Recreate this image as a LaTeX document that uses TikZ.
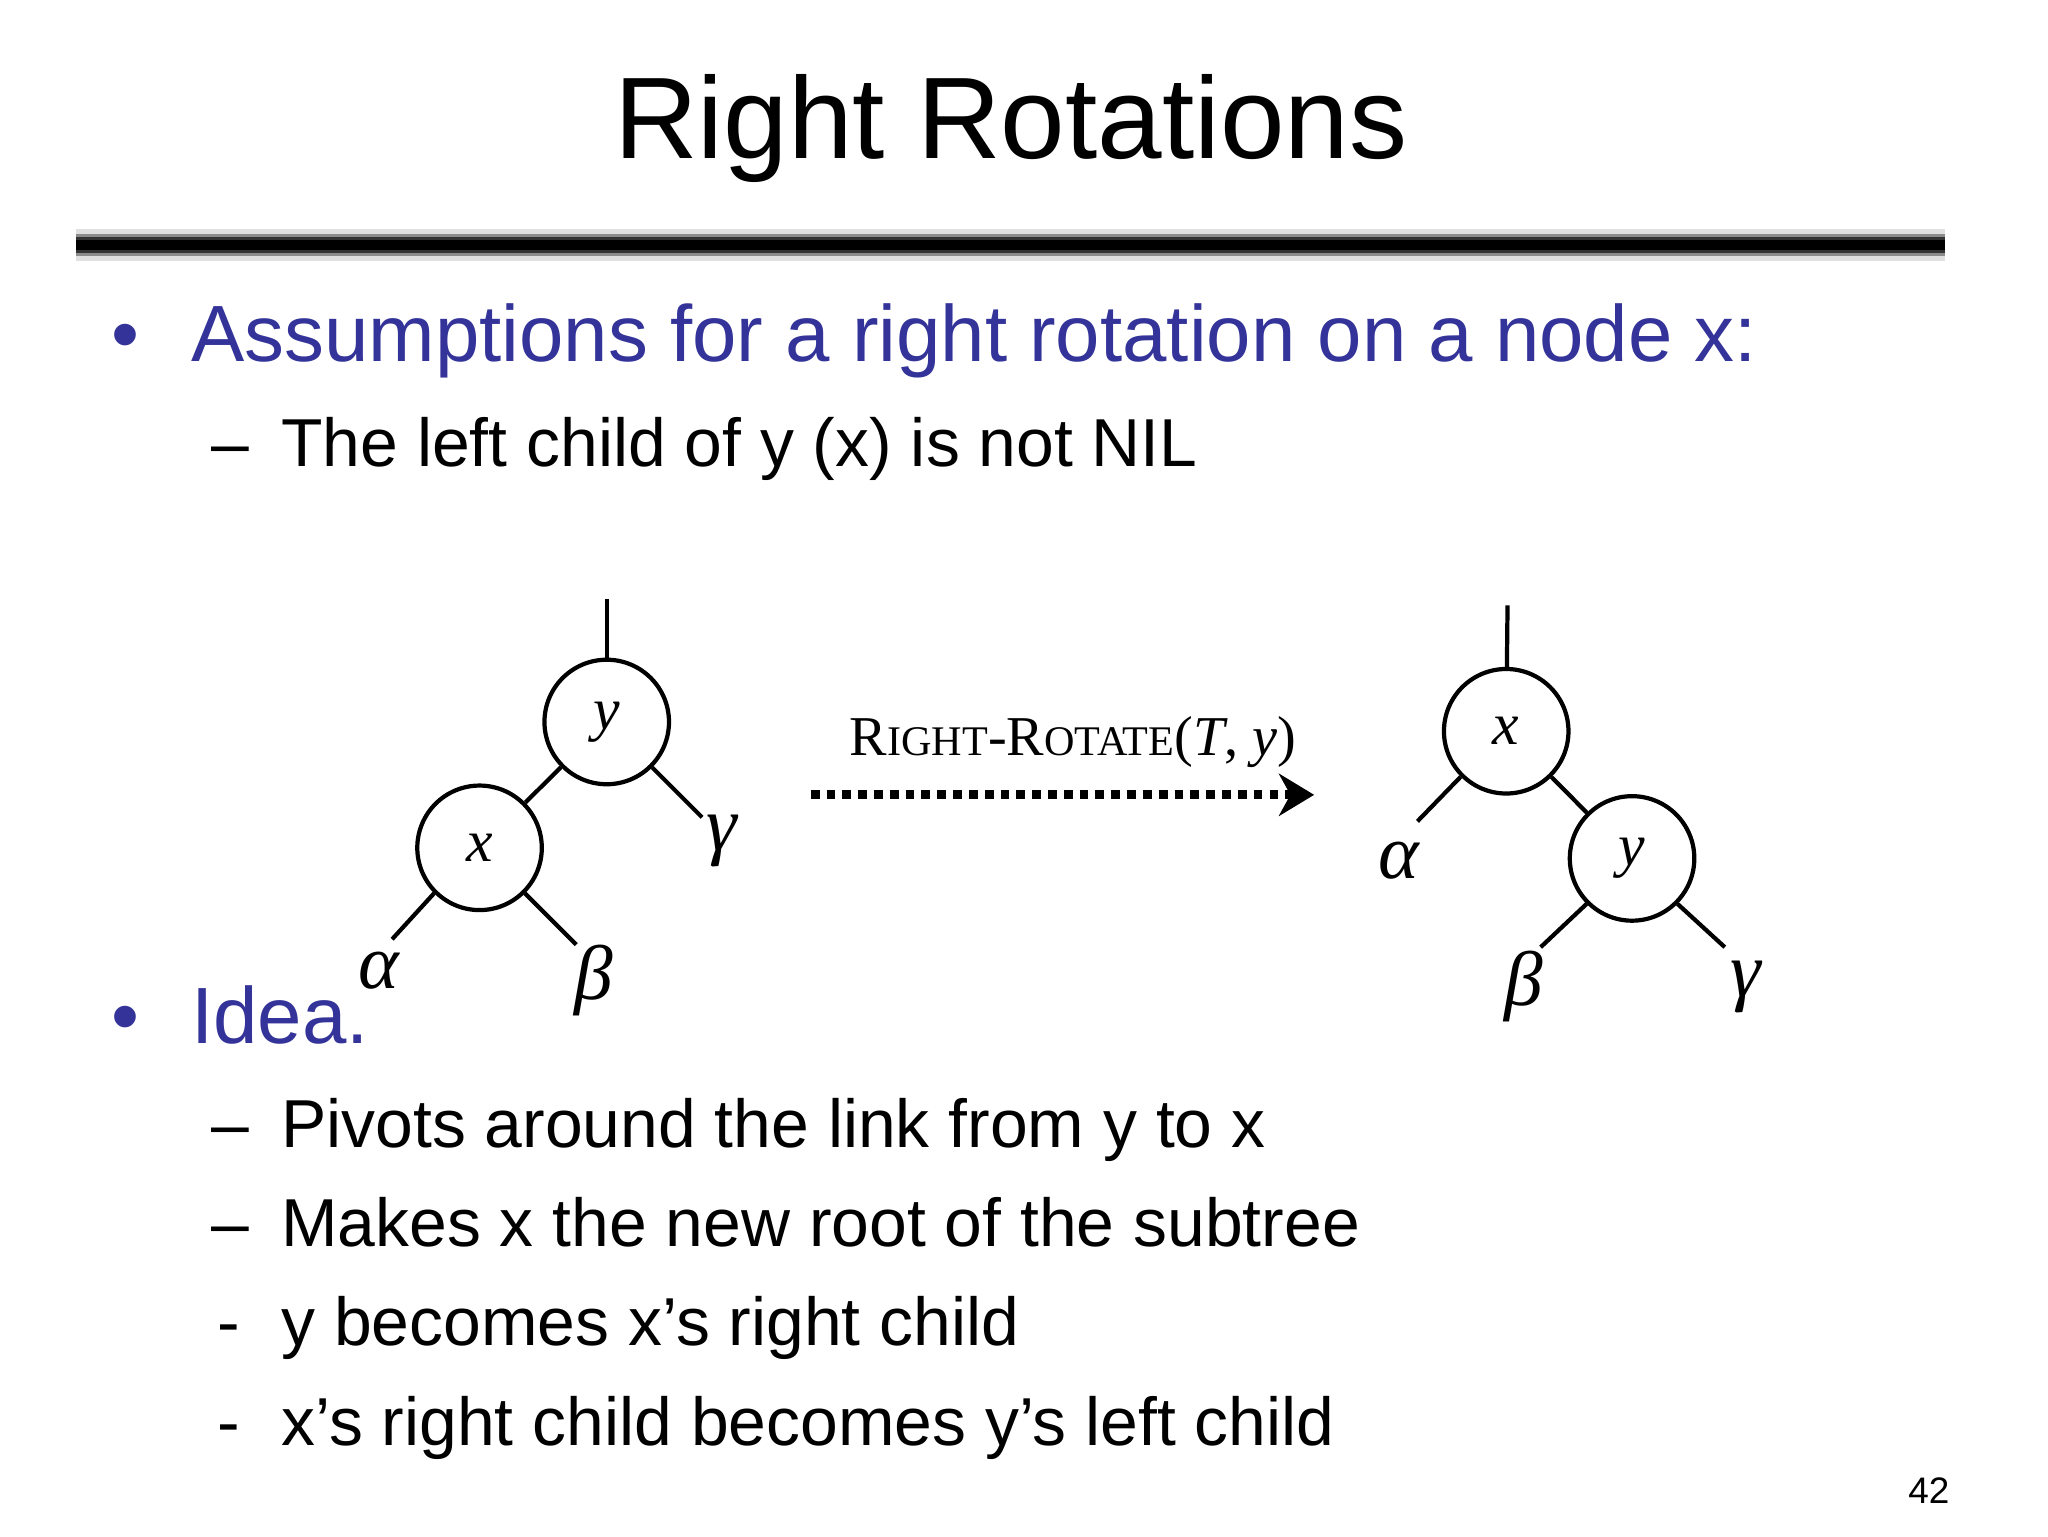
\documentclass[tikz,border=0pt]{standalone}
\usepackage{fontspec}
\setmainfont{Liberation Sans}
\newfontfamily\serifrm{Liberation Serif}
\usetikzlibrary{arrows.meta}
\definecolor{bl}{RGB}{51,51,153}
\tikzset{
  circ/.style={draw,circle,line width=1.2pt,minimum size={94*0.01325cm},inner sep=0pt,font=\serifrm\itshape\fontsize{17}{17}\selectfont},
  edge/.style={line width=1.2pt},
  gr/.style={font=\serifrm\itshape\fontsize{22}{22}\selectfont},
  bul/.style={anchor=base west,text=bl,font=\fontsize{22.7}{25}\selectfont},
  sub/.style={anchor=base west,font=\fontsize{19.3}{22}\selectfont}
}
\begin{document}
\begin{tikzpicture}[x=0.01325cm,y=-0.01325cm]
\useasboundingbox (0,0) rectangle (1546,1160);
\node (title) at (763,97) {\fontsize{33}{36}\selectfont Right Rotations};
\foreach \w/\c in {9/black!12,6.5/black!45,4.5/black!80,3/black}
  \draw[line width=\w pt,\c] (57,185) -- (1468,185);
\node[bul] (b1) at (75,273) {•};
\node[bul] (t1) at (135,273) {Assumptions for a right rotation on a node x:};
\node[sub] (d1) at (150,352) {–};
\node[sub] (s1) at (203,352) {The left child of y (x) is not NIL};
\node[bul] (b2) at (75,788) {•};
\node[bul] (t2) at (135,788) {Idea.};
\node[sub] (d2) at (150,866) {–};
\node[sub] (s2) at (203,866) {Pivots around the link from y to x};
\node[sub] (d3) at (150,941) {–};
\node[sub] (s3) at (203,941) {Makes x the new root of the subtree};
\node[sub] (d4) at (155,1016) {-};
\node[sub] (s4) at (203,1016) {y becomes x’s right child};
\node[sub] (d5) at (155,1091) {-};
\node[sub] (s5) at (203,1091) {x’s right child becomes y’s left child};
\node (pg) at (1456,1125) {\fontsize{10.5}{12}\selectfont 42};
% left tree
\node[circ] (ly) at (458,545) {y};
\node[circ] (lx) at (362,640) {x};
\coordinate (lr) at (458,452);
\draw[edge] (ly) -- (lr);
\draw[edge] (ly) -- (lx);
\node[gr] (lg) at (545,635) {γ};
\node[gr] (la) at (286,733) {α};
\node[gr] (lb) at (448,740) {β};
\draw[edge] (ly.-45) -- (530,617);
\draw[edge] (lx.-135) -- (296,709);
\draw[edge] (lx.-45) -- (435,713);
% right tree
\node[circ] (rx) at (1137,552) {x};
\node[circ] (ry) at (1232,648) {y};
\coordinate (rr) at (1138,457);
\draw[edge] (rx) -- (rr);
\draw[edge] (rx) -- (ry);
\node[gr] (ra) at (1056,650) {α};
\node[gr] (rb) at (1150,745) {β};
\node[gr] (rg) at (1318,745) {γ};
\draw[edge] (rx.-135) -- (1070,620);
\draw[edge] (ry.-135) -- (1163,715);
\draw[edge] (ry.-45) -- (1302,715);
% arrow
\node (lab) at (810,560) {\serifrm\fontsize{16}{16}\selectfont R{\fontsize{12}{12}\selectfont IGHT}-R{\fontsize{12}{12}\selectfont OTATE}(\textit{T}, \textit{y})};
\coordinate (a1) at (612,600);
\coordinate (a2) at (992,600);
\draw[line width=2.5pt,dotted,-{Stealth[length=10pt,width=12pt]}] (a1) -- (a2);
\end{tikzpicture}
\end{document}
